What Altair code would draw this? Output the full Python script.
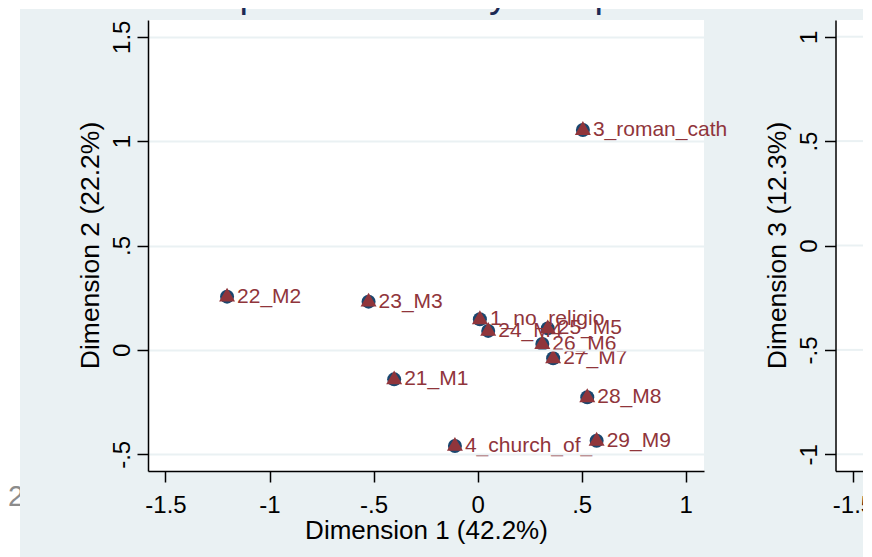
import altair as alt
import pandas as pd

# ---- data ----
labels = ["1_no_religio", "3_roman_cath", "4_church_of_", "21_M1", "22_M2", "23_M3",
          "24_M4", "25_M5", "26_M6", "27_M7", "28_M8", "29_M9"]
dim1 = [0.011, 0.506, -0.109, -0.401, -1.204, -0.524, 0.051, 0.337, 0.311, 0.363, 0.527, 0.572]
dim2 = [0.147, 1.053, -0.460, -0.141, 0.255, 0.231, 0.091, 0.103, 0.028, -0.040, -0.227, -0.435]

x_ticks = [-1.5, -1, -0.5, 0, 0.5, 1]
y_ticks = [-0.5, 0, 0.5, 1, 1.5]
y3_ticks = [-1, -0.5, 0, 0.5, 1]

title_text = "Correspondence analysis biplot"
x_title = "Dimension 1 (42.2%)"
y_title = "Dimension 2 (22.2%)"
y3_title = "Dimension 3 (12.3%)"

# ---- styling ----
FONT = "Liberation Sans"
BG = "#EAF1F3"
NAVY = "#1A476F"
MAROON = "#90353B"
W, H = 556, 451

df = pd.DataFrame({"label": labels, "d1": dim1, "d2": dim2})
one = pd.DataFrame({"k": [0]})

lab_expr = "replace(toString(datum.value), '0.', '.')"
axis_common = dict(domainColor="black", domainWidth=1.5, tickColor="black", tickWidth=1.5,
                   tickSize=11, labelFont=FONT, labelFontSize=24, labelColor="black",
                   titleFont=FONT, titleColor="black", titleFontWeight="normal", zindex=1,
                   labelExpr=lab_expr)

xscale = alt.Scale(domain=[-1.584, 1.088], nice=False, zero=False)
yscale = alt.Scale(domain=[-0.580, 1.580], nice=False, zero=False)

x_axis = alt.Axis(values=x_ticks, grid=False, title=x_title, titleFontSize=26,
                  labelPadding=11, titleY=67, titleBaseline="alphabetic", **axis_common)
y_axis = alt.Axis(values=y_ticks, grid=True, gridColor=BG, gridWidth=2, labelAngle=270,
                  labelAlign="center", labelBaseline="alphabetic", labelPadding=8,
                  title=y_title, titleFontSize=26.5, titleAngle=270, titleX=-50, titleY=225,
                  titleBaseline="alphabetic", titleAlign="center", **axis_common)

base = alt.Chart(one)

gray2 = base.mark_text(text="2", fontSize=29, font=FONT, color="#8C8C8C", align="left",
                       baseline="alphabetic").encode(x=alt.value(-140), y=alt.value(486))
outer_bg = base.mark_rect(color=BG).encode(x=alt.value(-128), x2=alt.value(715),
                                           y=alt.value(-11), y2=alt.value(537))
plot_bg = base.mark_rect(color="white").encode(x=alt.value(0), x2=alt.value(W),
                                                y=alt.value(0), y2=alt.value(H))
plot3_bg = base.mark_rect(color="white").encode(x=alt.value(687.5), x2=alt.value(715),
                                                 y=alt.value(0), y2=alt.value(H))
title = base.mark_text(text=title_text, fontSize=38, font=FONT, color="#1C2A54",
                       align="left", baseline="alphabetic").encode(x=alt.value(-22.4),
                                                                   y=alt.value(-13))

pts = alt.Chart(df)
circles = pts.mark_point(shape="circle", filled=True, size=196, color=NAVY, opacity=1).encode(
    x=alt.X("d1:Q", scale=xscale, axis=x_axis),
    y=alt.Y("d2:Q", scale=yscale, axis=y_axis))
tris = pts.mark_point(shape="triangle-up", filled=True, size=256, color=MAROON, opacity=1,
                      yOffset=-2).encode(x=alt.X("d1:Q"), y=alt.Y("d2:Q"))
texts = pts.mark_text(align="left", baseline="middle", dx=10, fontSize=21, font=FONT,
                      color=MAROON).encode(x=alt.X("d1:Q"), y=alt.Y("d2:Q"), text="label:N")

left = alt.layer(gray2, outer_bg, plot_bg, plot3_bg, title, circles, tris, texts)

# ---- right (cropped) panel: Dimension 3 ----
r_yscale = alt.Scale(domain=[-1.08, 1.08], nice=False, zero=False)
r_xscale = alt.Scale(domain=[-1.584, 1.088], range=[687.5, 1243.5], nice=False, zero=False)

r_y_axis = alt.Axis(orient="left", offset=-687.5, values=y3_ticks, grid=False, labelAngle=270,
                    labelAlign="center", labelBaseline="alphabetic", labelPadding=8,
                    title=y3_title, titleFontSize=26.5, titleAngle=270, titleX=-50, titleY=225,
                    titleBaseline="alphabetic", titleAlign="center", **axis_common)
r_x_axis = alt.Axis(orient="bottom", values=x_ticks, grid=False, title=None, labelPadding=11,
                    **axis_common)

right_grid = alt.Chart(pd.DataFrame({"v": y3_ticks})).mark_rule(color=BG, strokeWidth=2).encode(
    y=alt.Y("v:Q", scale=r_yscale, axis=r_y_axis),
    x=alt.value(687.5), x2=alt.value(715))
right_x = alt.Chart(pd.DataFrame({"v": x_ticks})).mark_point(opacity=0).encode(
    x=alt.X("v:Q", scale=r_xscale, axis=r_x_axis))
right = alt.layer(right_grid, right_x)

chart = alt.layer(left, right).resolve_scale(x="independent", y="independent").properties(
    width=W, height=H,
    padding={"left": 140, "top": 12, "right": 159, "bottom": 86},
    autosize=alt.AutoSizeParams(type="none"),
    background="white",
).configure_view(strokeWidth=0)

chart.save("out.html", embed_options={"renderer": "svg", "actions": False})
